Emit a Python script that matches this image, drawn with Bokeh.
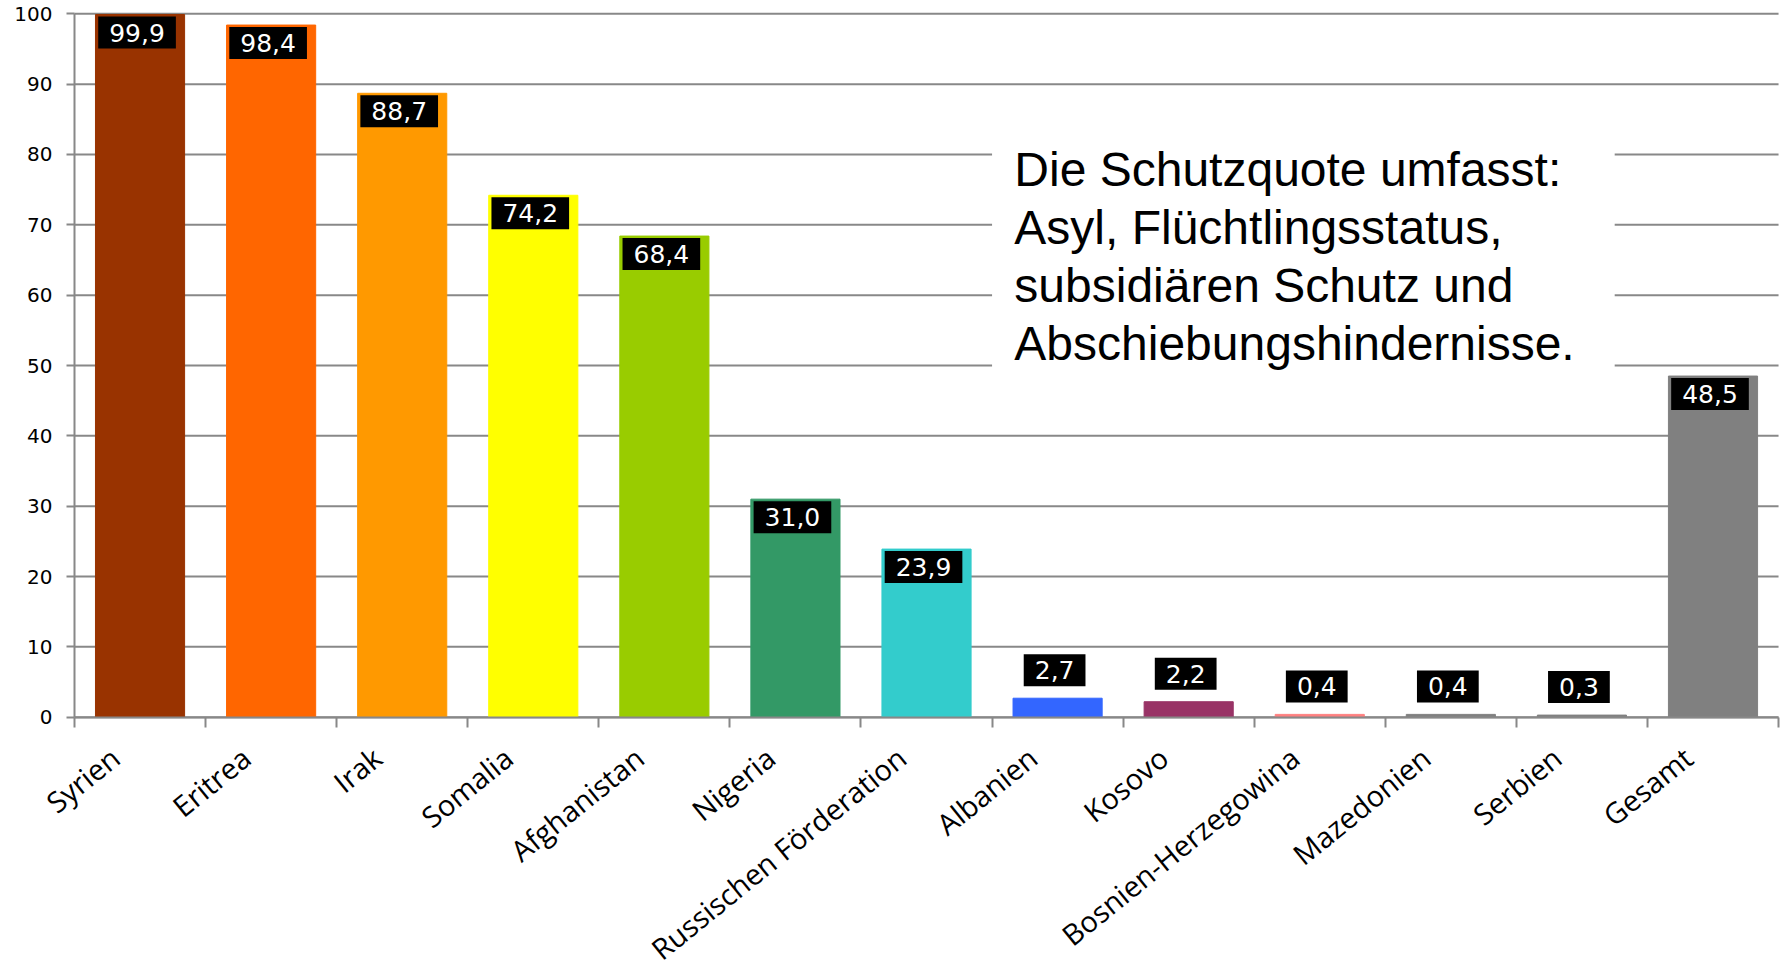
from bokeh.plotting import figure
from bokeh.models import Range1d, FixedTicker, ColumnDataSource, BoxAnnotation, Label
from bokeh.embed import file_html
from bokeh.resources import INLINE
from bokeh.core.properties import value

countries = ["Syrien", "Eritrea", "Irak", "Somalia", "Afghanistan", "Nigeria",
             "Russischen Förderation", "Albanien", "Kosovo", "Bosnien-Herzegowina",
             "Mazedonien", "Serbien", "Gesamt"]
quotes = [99.9, 98.4, 88.7, 74.2, 68.4, 31.0, 23.9, 2.7, 2.2, 0.4, 0.4, 0.3, 48.5]
colors = ["#993300", "#FF6600", "#FF9900", "#FFFF00", "#99CC00", "#339966", "#33CCCC",
          "#3366FF", "#993366", "#FF8080", "#808080", "#808080", "#808080"]
y_ticks = [0, 10, 20, 30, 40, 50, 60, 70, 80, 90, 100]
note_lines = ["Die Schutzquote umfasst:", "Asyl, Flüchtlingsstatus,",
              "subsidiären Schutz und", "Abschiebungshindernisse."]

n = len(countries)
xs = list(range(n))
labels = [f"{v:.1f}".replace(".", ",") for v in quotes]
yoff = [18 if v >= 10 else -28 for v in quotes]
src = ColumnDataSource(dict(x=xs, v=quotes, c=colors, lbl=labels, yoff=yoff,
                            name=countries, zero=[0] * n))

# layout geometry (pixels): the plotting area spans the whole canvas so that the
# rotated category names can use the full height below the axis
W, H = 1784, 978
AX_LEFT_PX, AX_ZERO_PX = 74.0, 716.7
PX_PER_CAT, PX_PER_UNIT = 131.08, 7.034
x_lo = -0.5 - AX_LEFT_PX / PX_PER_CAT
x_hi = -0.5 + (W - AX_LEFT_PX) / PX_PER_CAT
y_lo = -(H - AX_ZERO_PX) / PX_PER_UNIT
y_hi = AX_ZERO_PX / PX_PER_UNIT

p = figure(width=W, height=H, output_backend="svg", toolbar_location=None,
           x_range=Range1d(x_lo, x_hi), y_range=Range1d(y_lo, y_hi),
           min_border=0, outline_line_color=None, background_fill_color="white")

gray = "#888888"
cat_lo, cat_hi = -0.5, n - 0.5

# horizontal grid lines, only across the category area
p.segment(x0=cat_lo, x1=cat_hi, y0=y_ticks, y1=y_ticks, line_color=gray, line_width=2)

p.vbar(x="x", top="v", width=0.68, color="c", source=src)

p.text(x="x", y="v", text="lbl", source=src, text_color="white",
       text_font=value("DejaVu Sans"), text_font_size="25px",
       text_align="center", text_baseline="middle", x_offset=-3, y_offset="yoff",
       background_fill_color="black",
       padding=dict(left=11, right=11, top=7, bottom=7))

# category names, rotated, below the axis
p.text(x="x", y="zero", text="name", source=src, angle=0.68,
       text_align="right", text_baseline="middle", x_offset=-25, y_offset=36,
       text_font=value("Open Sans"), text_font_size="29px", text_color="black")

p.xgrid.visible = False
p.ygrid.visible = False

# x axis at y = 0, ticks between categories
xa = p.xaxis[0]
xa.fixed_location = 0
xa.bounds = (cat_lo, cat_hi)
xa.ticker = FixedTicker(ticks=[], minor_ticks=[i - 0.5 for i in range(n + 1)])
xa.major_tick_out = 0
xa.major_tick_in = 0
xa.minor_tick_out = 10
xa.minor_tick_in = 0
xa.minor_tick_line_color = gray
xa.minor_tick_line_width = 2
xa.axis_line_color = gray
xa.axis_line_width = 2
xa.major_label_text_font_size = "0px"

# y axis at the left edge of the categories
ya = p.yaxis[0]
ya.fixed_location = cat_lo
ya.bounds = (0, 100)
ya.ticker = FixedTicker(ticks=y_ticks)
ya.major_label_text_font = "DejaVu Sans"
ya.major_label_text_font_size = "20px"
ya.major_label_text_color = "black"
ya.major_label_standoff = 14
ya.major_tick_out = 8
ya.major_tick_in = 0
ya.major_tick_line_color = gray
ya.major_tick_line_width = 2
ya.minor_tick_out = 0
ya.minor_tick_in = 0
ya.axis_line_color = gray
ya.axis_line_width = 2

p.add_layout(BoxAnnotation(left=6.5, right=11.25, bottom=44, top=86,
                           fill_color="white", fill_alpha=1.0, line_color=None))
p.add_layout(Label(x=6.67, y=81.7, text="\n".join(note_lines),
                   text_font="Liberation Sans", text_font_size="48px",
                   text_baseline="top", text_align="left", text_line_height=1.1,
                   text_color="black"))

open("out.html", "w").write(file_html(p, INLINE))
